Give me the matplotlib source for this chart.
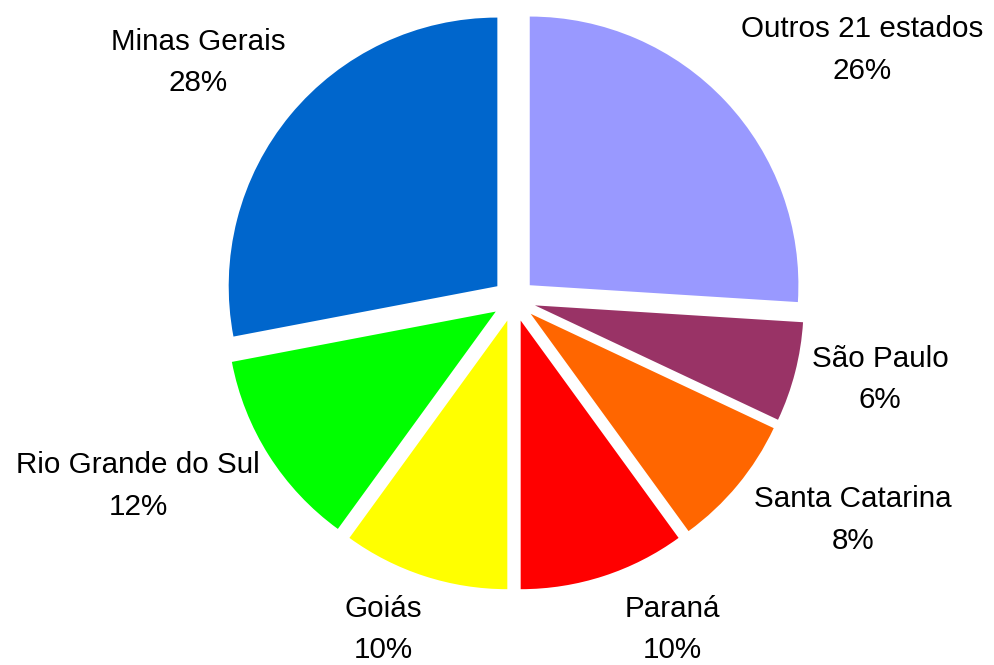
import matplotlib.pyplot as plt

plt.rcParams['font.family'] = ['Liberation Sans', 'DejaVu Sans']

estados = ["Outros 21 estados", "São Paulo", "Santa Catarina", "Paraná",
           "Goiás", "Rio Grande do Sul", "Minas Gerais"]
percentuais = [26, 6, 8, 10, 10, 12, 28]
cores = ["#9999FF", "#993366", "#FF6600", "#FF0000",
         "#FFFF00", "#00FF00", "#0066CC"]
# label centres, in pie radius units relative to the centre
label_pos = [(1.289, 0.926), (1.356, -0.293), (1.256, -0.815), (0.585, -1.219),
             (-0.485, -1.219), (-1.393, -0.689), (-1.170, 0.881)]

fig = plt.figure(figsize=(9.94, 6.65), dpi=100)
ax = fig.add_axes([0, 0, 1, 1])

ax.pie(percentuais, colors=cores, startangle=90, counterclock=False,
       explode=[0.08] * len(percentuais), radius=0.995,
       wedgeprops=dict(linewidth=0))

for nome, p, (x, y) in zip(estados, percentuais, label_pos):
    ax.text(x, y, f"{nome}\n{p}%", ha="center", va="center",
            fontsize=21.3, linespacing=1.6, color="black")

ax.set_xlim(-514 / 270, (994 - 514) / 270)
ax.set_ylim(-(665 - 300) / 270, 300 / 270)
ax.set_aspect("equal")
ax.axis("off")

fig.savefig("out.png", dpi=100, facecolor="white")
